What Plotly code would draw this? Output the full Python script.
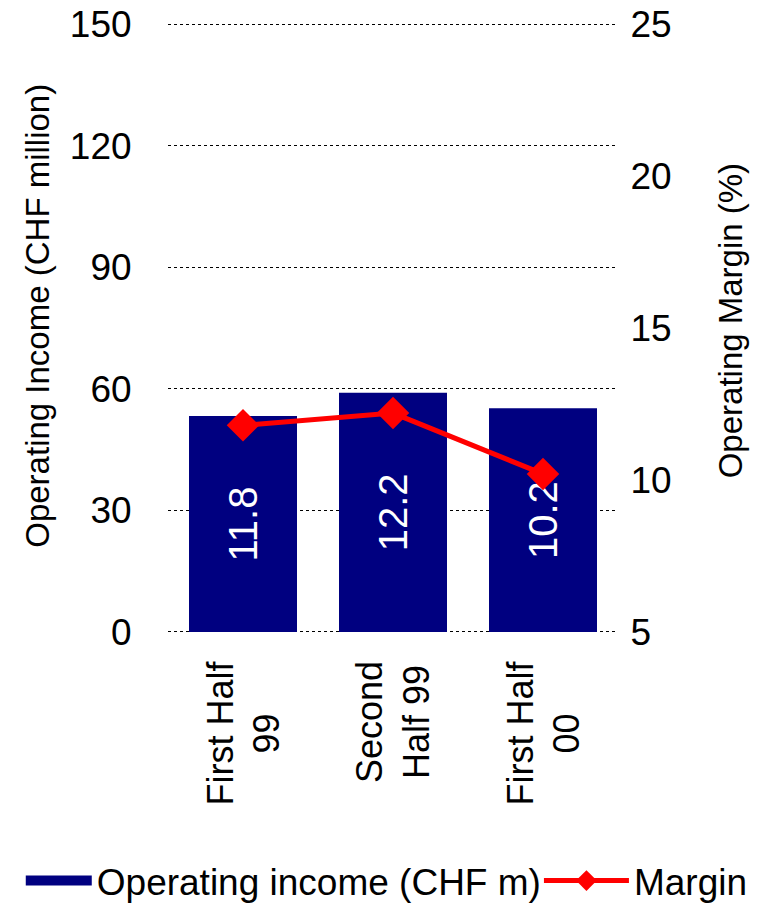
import plotly.graph_objects as go

categories = ["First Half<br>99", "Second<br>Half 99", "First Half<br>00"]
operating_income = [53.3, 59.0, 55.2]
margin = [11.8, 12.2, 10.2]
margin_labels = ["11.8", "12.2", "10.2"]
left_ticks = [0, 30, 60, 90, 120, 150]
right_ticks = [5, 10, 15, 20, 25]
left_title = "Operating Income (CHF million)"
right_title = "Operating Margin (%)"

FONT = "Liberation Sans, Arial, sans-serif"
NAVY = "#000080"
RED = "#FF0000"

fig = go.Figure()
fig.add_trace(go.Bar(
    x=categories, y=operating_income, name="Operating income (CHF m)",
    marker=dict(color=NAVY, line=dict(width=0)),
    text=margin_labels, textposition="inside", textangle=-90,
    insidetextanchor="middle",
    textfont=dict(color="white", size=40, family=FONT),
    showlegend=False, yaxis="y",
))
# legend swatch for the bars
fig.add_trace(go.Scatter(
    x=[None], y=[None], name="Operating income (CHF m)", mode="lines",
    line=dict(color=NAVY, width=10), legend="legend", showlegend=True,
))
fig.add_trace(go.Scatter(
    x=categories, y=margin, name="Margin", mode="lines+markers",
    line=dict(color=RED, width=5),
    marker=dict(symbol="diamond", size=25, color=RED),
    yaxis="y2", legend="legend2",
))

# category labels below the axis (rotated, centred lines)
for c in categories:
    fig.add_annotation(
        x=c, xref="x", y=0, yref="paper", yanchor="top", xanchor="center",
        yshift=-26, text=c, textangle=-90, align="center", showarrow=False,
        font=dict(size=36, family=FONT, color="black"),
    )

# axis titles
fig.add_annotation(x=-0.289, xref="paper", y=0.52, yref="paper",
                   xanchor="center", yanchor="middle", text=left_title,
                   textangle=-90, showarrow=False,
                   font=dict(size=33, family=FONT, color="black"))
fig.add_annotation(x=1.249, xref="paper", y=0.511, yref="paper",
                   xanchor="center", yanchor="middle", text=right_title,
                   textangle=-90, showarrow=False,
                   font=dict(size=33, family=FONT, color="black"))

fig.update_layout(
    width=758, height=904,
    margin=dict(l=168, r=140, t=23, b=271, autoexpand=False),
    paper_bgcolor="white", plot_bgcolor="white",
    font=dict(family=FONT, color="black", size=37),
    bargap=0.28,
    showlegend=True,
    legend=dict(xref="container", yref="container", x=0.0274, xanchor="left",
                y=0.0254, yanchor="middle", font=dict(size=37), itemwidth=66,
                bgcolor="rgba(0,0,0,0)"),
    legend2=dict(xref="container", yref="container", x=0.711, xanchor="left",
                 y=0.0254, yanchor="middle", font=dict(size=37), itemwidth=85,
                 bgcolor="rgba(0,0,0,0)"),
    xaxis=dict(showticklabels=False, showgrid=False, showline=False, ticks="",
               automargin=False),
    yaxis=dict(range=[-0.25, 150.25], tickvals=left_ticks, showgrid=True,
               gridcolor="black", griddash="dot", gridwidth=1,
               zeroline=False, showline=False,
               ticks="outside", ticklen=28, tickcolor="white", tickwidth=1,
               automargin=False, ticklabeloverflow="allow",
               tickfont=dict(size=37)),
    yaxis2=dict(range=[5 - 0.25 / 7.5, 25 + 0.25 / 7.5], tickvals=right_ticks,
                overlaying="y", side="right",
                showgrid=False, zeroline=False, showline=False,
                ticks="outside", ticklen=4, tickcolor="white", tickwidth=1,
                automargin=False, ticklabeloverflow="allow",
                tickfont=dict(size=37)),
)

fig.write_html("out.html", config={"displayModeBar": False},
               post_script="document.body.style.margin='0';document.body.style.overflow='hidden';")
